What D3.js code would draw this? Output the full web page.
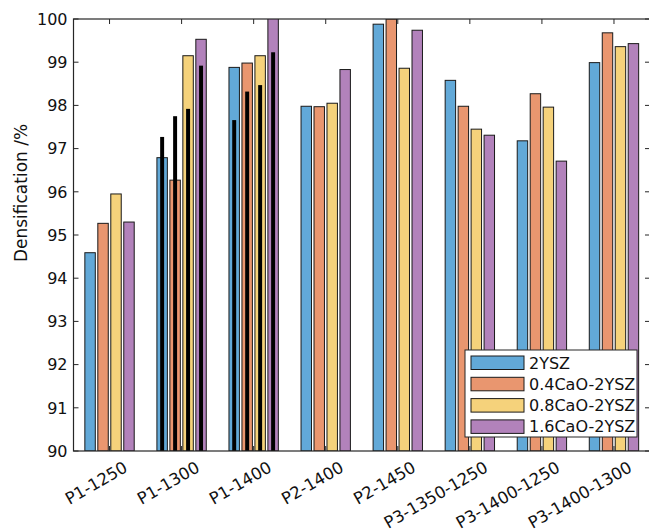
<!DOCTYPE html>
<html><head><meta charset="utf-8">
<script src="https://cdn.jsdelivr.net/npm/d3@7"></script>
<style>body{margin:0;background:#fff}svg{display:block}text{font-family:"DejaVu Sans",sans-serif;fill:#111}</style>
</head><body><svg id="c" width="649" height="532"></svg>
<script>
const categories = ["P1-1250","P1-1300","P1-1400","P2-1400","P2-1450","P3-1350-1250","P3-1400-1250","P3-1400-1300"];
const seriesNames = ["2YSZ","0.4CaO-2YSZ","0.8CaO-2YSZ","1.6CaO-2YSZ"];
const s2YSZ  = [94.59, 96.79, 98.88, 97.98, 99.88, 98.58, 97.18, 98.99];
const s04CaO = [95.27, 96.27, 98.98, 97.97, 100.0, 97.98, 98.27, 99.68];
const s08CaO = [95.95, 99.15, 99.15, 98.05, 98.86, 97.45, 97.96, 99.36];
const s16CaO = [95.30, 99.53, 100.2, 98.83, 99.74, 97.31, 96.71, 99.43];
// black overlay bars (only P1-1300 and P1-1400)
const o2YSZ  = [null, 97.27, 97.66, null, null, null, null, null];
const o04CaO = [null, 97.75, 98.32, null, null, null, null, null];
const o08CaO = [null, 97.92, 98.47, null, null, null, null, null];
const o16CaO = [null, 98.92, 99.23, null, null, null, null, null];
const yTicks = [90,91,92,93,94,95,96,97,98,99,100];
const colors = ["#62a9d8","#e9966f","#f5d27b","#b282bb"];

const series = [s2YSZ, s04CaO, s08CaO, s16CaO];
const overlays = [o2YSZ, o04CaO, o08CaO, o16CaO];

const svg = d3.select("#c");
const L = 73.5, R = 650, T = 19, B = 451;
const x = d3.scaleLinear().domain([0.5, 8.5]).range([L, R]);
const y = d3.scaleLinear().domain([90, 100]).range([B, T]);
const unit = x(2) - x(1);
const pitch = 0.18, bw = 0.145, ow = 0.055;

svg.append("defs").append("clipPath").attr("id","clip")
  .append("rect").attr("x",L).attr("y",T).attr("width",R-L).attr("height",B-T);
const g = svg.append("g").attr("clip-path","url(#clip)");

series.forEach((vals, si) => {
  g.selectAll(".b"+si).data(vals).enter().append("rect")
    .attr("x", (d,i) => x(i+1 + (si-1.5)*pitch - bw/2))
    .attr("width", bw*unit)
    .attr("y", d => y(d))
    .attr("height", d => y(90) - y(d))
    .attr("fill", colors[si]).attr("stroke","#1a1a1a").attr("stroke-width",1);
});
overlays.forEach((vals, si) => {
  g.selectAll(".o"+si).data(vals.map((v,i)=>({v,i})).filter(d=>d.v!==null)).enter().append("rect")
    .attr("x", d => x(d.i+1 + (si-1.5)*pitch - ow/2))
    .attr("width", ow*unit)
    .attr("y", d => y(d.v))
    .attr("height", d => y(90) - y(d.v))
    .attr("fill", "#000");
});

// axes box
const axc = "#262626";
svg.append("rect").attr("x",L).attr("y",T).attr("width",R-L).attr("height",B-T)
  .attr("fill","none").attr("stroke",axc).attr("stroke-width",1.2);

// y ticks
const yAxis = svg.append("g");
yTicks.forEach(t => {
  yAxis.append("line").attr("x1",L).attr("x2",L+5).attr("y1",y(t)).attr("y2",y(t)).attr("stroke",axc);
  yAxis.append("line").attr("x1",R).attr("x2",R-5).attr("y1",y(t)).attr("y2",y(t)).attr("stroke",axc);
  yAxis.append("text").attr("x",L-6).attr("y",y(t)).attr("dy","0.36em")
    .attr("text-anchor","end").attr("font-size",16).text(t);
});
// x ticks
categories.forEach((c,i) => {
  const xc = x(i+1);
  svg.append("line").attr("x1",xc).attr("x2",xc).attr("y1",B).attr("y2",B-5).attr("stroke",axc);
  svg.append("line").attr("x1",xc).attr("x2",xc).attr("y1",T).attr("y2",T+5).attr("stroke",axc);
  svg.append("text").attr("transform",`translate(${xc+13},${B+9}) rotate(-30)`)
    .attr("dy","0.75em").attr("text-anchor","end").attr("font-size",16.5).text(c);
});
// y label
svg.append("text").attr("transform",`translate(27,193) rotate(-90)`)
  .attr("text-anchor","middle").attr("font-size",17).text("Densification /%");

// legend
const lg = svg.append("g");
lg.append("rect").attr("x",465).attr("y",350).attr("width",172).attr("height",87)
  .attr("fill","#fff").attr("stroke","#262626").attr("stroke-width",1);
seriesNames.forEach((n,i) => {
  const yy = 356 + i*21.3;
  lg.append("rect").attr("x",471).attr("y",yy).attr("width",53).attr("height",13.5)
    .attr("fill",colors[i]).attr("stroke","#1a1a1a");
  lg.append("text").attr("x",529).attr("y",yy+6.8).attr("dy","0.36em").attr("font-size",16).text(n);
});
</script></body></html>
